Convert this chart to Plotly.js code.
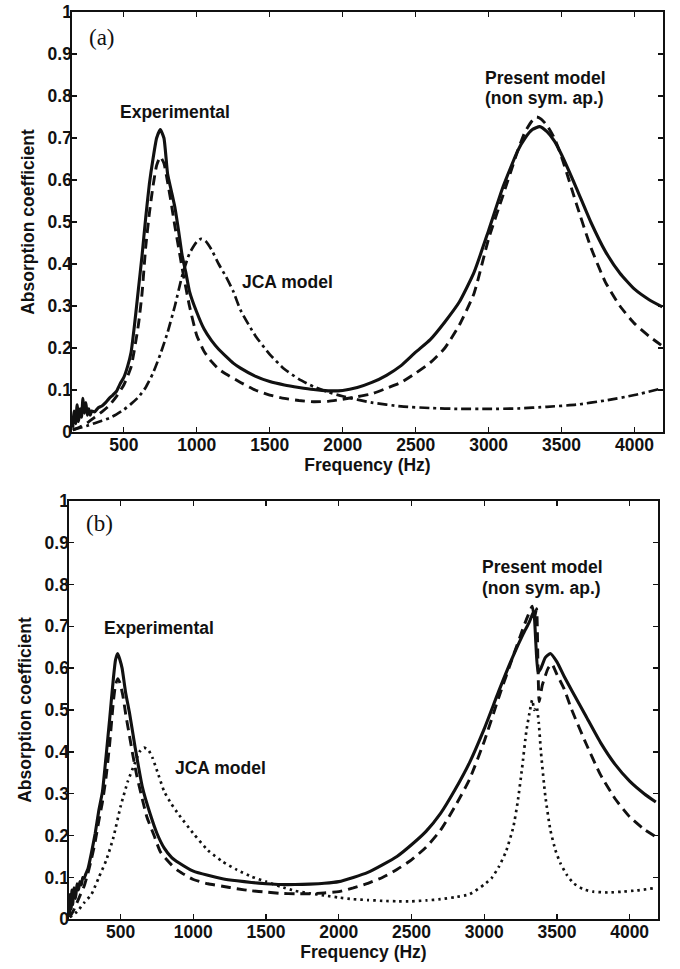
<!DOCTYPE html>
<html>
<head>
<meta charset="utf-8">
<script src="https://cdn.plot.ly/plotly-3.0.1.min.js"></script>
<style>html,body{margin:0;padding:0;background:#fff;}#chart{width:680px;height:969px;}</style>
</head>
<body>
<div id="chart"></div>
<script>
// ---------- Panel (a) ----------
const freqA_exp = [150,160,170,180,190,200,210,220,230,240,250,260,270,280,300,325,350,375,400,425,450,475,500,525,550,575,600,625,650,675,700,725,750,775,800,825,850,875,900,925,950,1000,1050,1100,1150,1200,1250,1300,1400,1500,1600,1700,1800,1900,2000,2100,2200,2300,2400,2500,2600,2700,2800,2900,3000,3100,3200,3250,3300,3350,3400,3450,3500,3600,3700,3800,3900,4000,4100,4190];
const alphaA_exp = [0.01,0.05,0.02,0.065,0.025,0.055,0.035,0.08,0.045,0.07,0.04,0.055,0.04,0.05,0.048,0.058,0.062,0.07,0.08,0.088,0.097,0.115,0.13,0.155,0.19,0.26,0.34,0.42,0.51,0.59,0.65,0.70,0.72,0.70,0.615,0.575,0.535,0.48,0.42,0.38,0.335,0.285,0.245,0.218,0.197,0.18,0.164,0.152,0.133,0.12,0.112,0.106,0.101,0.098,0.099,0.106,0.118,0.135,0.158,0.19,0.22,0.262,0.31,0.38,0.48,0.585,0.67,0.70,0.72,0.727,0.715,0.693,0.66,0.582,0.50,0.43,0.378,0.34,0.315,0.298];

const freqA_model = [150,200,250,300,350,400,450,500,550,600,625,650,675,700,725,750,775,800,825,850,875,900,950,1000,1050,1100,1150,1200,1300,1400,1500,1600,1700,1800,1900,2000,2100,2200,2300,2400,2500,2600,2700,2800,2900,3000,3100,3200,3250,3300,3330,3360,3400,3450,3500,3600,3700,3800,3900,4000,4100,4190];
const alphaA_model = [0.005,0.012,0.022,0.035,0.048,0.063,0.085,0.112,0.155,0.255,0.33,0.44,0.52,0.585,0.635,0.655,0.64,0.595,0.545,0.49,0.44,0.39,0.30,0.23,0.192,0.168,0.15,0.138,0.118,0.10,0.088,0.08,0.075,0.072,0.073,0.078,0.084,0.091,0.104,0.118,0.14,0.165,0.20,0.255,0.33,0.46,0.565,0.67,0.715,0.742,0.75,0.745,0.73,0.70,0.655,0.545,0.44,0.357,0.30,0.258,0.228,0.205];

const freqA_jca = [150,200,250,300,350,400,450,500,550,600,650,700,750,800,850,900,950,1000,1030,1060,1100,1150,1200,1250,1300,1400,1500,1600,1700,1800,1900,2000,2200,2400,2600,2800,3000,3200,3400,3600,3800,4000,4190];
const alphaA_jca = [0.005,0.01,0.015,0.021,0.027,0.033,0.042,0.053,0.067,0.083,0.106,0.14,0.185,0.237,0.30,0.372,0.425,0.453,0.46,0.455,0.435,0.40,0.37,0.335,0.29,0.23,0.185,0.15,0.126,0.108,0.095,0.085,0.07,0.061,0.057,0.055,0.055,0.056,0.06,0.065,0.075,0.088,0.104];

// ---------- Panel (b) ----------
const freqB_exp = [150,155,160,165,170,180,190,200,210,220,230,240,250,260,275,300,325,350,375,400,425,450,465,480,495,510,535,560,600,650,700,750,800,850,900,1000,1100,1200,1300,1400,1500,1600,1700,1800,1900,2000,2100,2200,2300,2400,2500,2600,2700,2800,2900,3000,3100,3200,3270,3310,3340,3355,3370,3390,3420,3455,3500,3550,3600,3700,3800,3900,4000,4100,4180];
const alphaB_exp = [0.01,0.06,0.025,0.07,0.035,0.075,0.05,0.085,0.07,0.09,0.082,0.10,0.098,0.108,0.12,0.16,0.205,0.26,0.305,0.39,0.48,0.575,0.62,0.635,0.62,0.60,0.54,0.495,0.41,0.315,0.255,0.205,0.17,0.148,0.135,0.115,0.105,0.097,0.092,0.088,0.085,0.083,0.083,0.084,0.086,0.09,0.10,0.112,0.13,0.15,0.178,0.21,0.253,0.31,0.375,0.455,0.545,0.63,0.683,0.71,0.735,0.66,0.59,0.60,0.625,0.635,0.615,0.58,0.548,0.485,0.422,0.37,0.33,0.30,0.28];

const freqB_model = [150,175,200,225,250,275,300,325,350,375,400,425,450,465,480,495,515,535,560,580,610,640,680,730,775,850,900,1000,1100,1200,1300,1400,1500,1600,1700,1800,1900,2000,2100,2200,2300,2400,2500,2600,2700,2800,2900,3000,3100,3200,3270,3300,3330,3345,3360,3370,3378,3400,3440,3465,3500,3550,3600,3700,3800,3900,4000,4100,4180];
const alphaB_model = [0.005,0.02,0.04,0.06,0.08,0.11,0.145,0.185,0.235,0.28,0.34,0.42,0.52,0.56,0.575,0.565,0.535,0.49,0.44,0.40,0.345,0.30,0.245,0.20,0.16,0.13,0.115,0.095,0.085,0.079,0.073,0.068,0.065,0.062,0.061,0.061,0.063,0.066,0.075,0.086,0.10,0.119,0.142,0.172,0.213,0.27,0.335,0.425,0.53,0.63,0.698,0.725,0.748,0.72,0.742,0.60,0.52,0.56,0.60,0.61,0.585,0.55,0.502,0.42,0.345,0.288,0.245,0.215,0.197];

const freqB_jca = [150,200,250,300,350,400,450,500,550,600,630,660,690,720,760,800,850,900,1000,1100,1200,1300,1400,1500,1600,1700,1800,1900,2000,2100,2200,2300,2400,2500,2600,2700,2800,2900,3000,3050,3100,3150,3200,3230,3260,3290,3315,3330,3345,3360,3375,3390,3420,3455,3490,3525,3570,3615,3680,3750,3850,3950,4050,4160];
const alphaB_jca = [0.005,0.018,0.04,0.06,0.10,0.14,0.195,0.27,0.33,0.375,0.40,0.41,0.405,0.385,0.345,0.305,0.275,0.25,0.205,0.165,0.138,0.118,0.102,0.09,0.078,0.068,0.062,0.057,0.052,0.048,0.046,0.044,0.043,0.043,0.045,0.048,0.053,0.06,0.083,0.098,0.125,0.162,0.22,0.28,0.36,0.45,0.50,0.524,0.50,0.508,0.47,0.40,0.295,0.213,0.165,0.133,0.105,0.086,0.072,0.066,0.064,0.066,0.069,0.074];

const xTicks = [500,1000,1500,2000,2500,3000,3500,4000];
const yTicks = [0,0.1,0.2,0.3,0.4,0.5,0.6,0.7,0.8,0.9,1];
const yTickText = ['0','0.1','0.2','0.3','0.4','0.5','0.6','0.7','0.8','0.9','1'];

const FONT = 'Liberation Sans, Arial, Helvetica, sans-serif';
const INK = '#111';

function tr(x, y, dash, width, xa, ya, name) {
  return {x: x, y: y, type: 'scatter', mode: 'lines', name: name, xaxis: xa, yaxis: ya,
    line: {color: INK, width: width, dash: dash, shape: 'spline', smoothing: 0.5}, hoverinfo: 'skip'};
}

const data = [
  tr(freqA_jca, alphaA_jca, '10px,4px,3px,4px', 2.7, 'x', 'y', 'JCA model'),
  tr(freqA_model, alphaA_model, '10px,6px', 2.9, 'x', 'y', 'Present model'),
  tr(freqA_exp, alphaA_exp, 'solid', 3.1, 'x', 'y', 'Experimental'),
  tr(freqB_jca, alphaB_jca, '2.5px,4px', 2.7, 'x2', 'y2', 'JCA model'),
  tr(freqB_model, alphaB_model, '10px,6px', 2.9, 'x2', 'y2', 'Present model'),
  tr(freqB_exp, alphaB_exp, 'solid', 3.1, 'x2', 'y2', 'Experimental')
];

function xaxis(domain, anchor) {
  return {domain: domain, anchor: anchor, range: [145, 4195], tickmode: 'array', tickvals: xTicks,
    ticktext: xTicks.map(String), ticks: 'inside', ticklen: 5, tickwidth: 1.3, tickcolor: INK,
    showline: true, linecolor: INK, linewidth: 1.6, mirror: 'ticks', showgrid: false, zeroline: false,
    tickfont: {family: FONT, size: 17.5, color: INK, weight: 'bold'}, ticklabelstandoff: -4,
    title: {text: 'Frequency (Hz)', font: {family: FONT, size: 17.5, color: INK, weight: 'bold'}, standoff: 4},
    automargin: false, fixedrange: true};
}
function yaxis(domain, anchor) {
  return {domain: domain, anchor: anchor, range: [0, 1], tickmode: 'array', tickvals: yTicks, ticktext: yTickText,
    ticks: 'inside', ticklen: 5, tickwidth: 1.3, tickcolor: INK,
    showline: true, linecolor: INK, linewidth: 1.6, mirror: 'ticks', showgrid: false, zeroline: false,
    tickfont: {family: FONT, size: 17.5, color: INK, weight: 'bold'}, ticklabelstandoff: -5,
    title: {text: 'Absorption coefficient', font: {family: FONT, size: 17.5, color: INK, weight: 'bold'}, standoff: 8},
    automargin: false, fixedrange: true};
}

const W = 680, H = 969;
function ann(text, x, y, xref, yref, font, xanchor) {
  return {text: text, x: x, y: y, xref: xref, yref: yref, showarrow: false, xanchor: xanchor || 'center', yanchor: 'middle', font: font};
}
const boldF = {family: FONT, size: 17.5, color: INK, weight: 'bold'};
const serifF = {family: 'Liberation Serif, Times New Roman, serif', size: 23, color: INK};

const layout = {
  width: W, height: H, margin: {l: 0, r: 0, t: 0, b: 0}, paper_bgcolor: '#fff', plot_bgcolor: '#fff',
  showlegend: false,
  xaxis: xaxis([72/W, 663/W], 'y'),
  yaxis: yaxis([1-432/H, 1-12/H], 'x'),
  xaxis2: xaxis([69/W, 658/W], 'y2'),
  yaxis2: yaxis([1-919.3/H, 1-500.7/H], 'x2'),
  annotations: [
    ann('(a)', 87/W, 1-37/H, 'paper', 'paper', serifF, 'left'),
    ann('Experimental', 175/W, 1-112/H, 'paper', 'paper', boldF),
    ann('JCA model', 287/W, 1-282/H, 'paper', 'paper', boldF),
    ann('Present model', 545/W, 1-78/H, 'paper', 'paper', boldF),
    ann('(non sym. ap.)', 544/W, 1-98/H, 'paper', 'paper', boldF),
    ann('(b)', 84/W, 1-523/H, 'paper', 'paper', serifF, 'left'),
    ann('Experimental', 159/W, 1-628/H, 'paper', 'paper', boldF),
    ann('JCA model', 220/W, 1-768/H, 'paper', 'paper', boldF),
    ann('Present model', 542/W, 1-567/H, 'paper', 'paper', boldF),
    ann('(non sym. ap.)', 541/W, 1-588/H, 'paper', 'paper', boldF)
  ]
};

Plotly.newPlot('chart', data, layout, {staticPlot: true, displayModeBar: false});
</script>
</body>
</html>
